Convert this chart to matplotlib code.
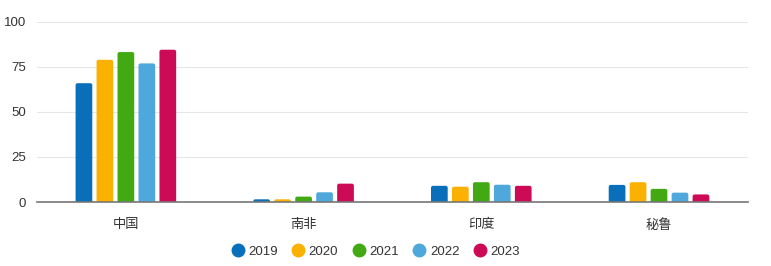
import matplotlib
matplotlib.use('Agg')
import matplotlib.pyplot as plt
from matplotlib.patches import FancyBboxPatch
import numpy as np

plt.rcParams['font.family'] = ['Liberation Sans', 'Noto Sans CJK SC']

# data
countries = ['中国', '南非', '印度', '秘鲁']
years = ['2019', '2020', '2021', '2022', '2023']
v2019 = [66, 1.5, 9, 9.5]
v2020 = [79, 1.5, 8.5, 11]
v2021 = [83.3, 3, 11, 7.3]
v2022 = [77, 5.4, 9.6, 5.2]
v2023 = [84.6, 10.2, 9, 4.2]
colors = ['#0a6fbb', '#fbb102', '#42a912', '#4fa8dc', '#cc0a55']

series = [v2019, v2020, v2021, v2022, v2023]

fig = plt.figure(figsize=(7.71, 2.66), dpi=100)
ax = fig.add_axes([0.048, 0.2406, 0.922, 0.6767])
ax.set_xlim(-0.5, 3.5)
ax.set_ylim(0, 100)

x = np.arange(len(countries))
pitch = 0.118
width = 0.094

# rounded bar tops: aspect between y and x data units per pixel
bbox = ax.get_window_extent()
aspect = (100 / bbox.height) / (4 / bbox.width)
r = 2.0 * 4 / bbox.width
for i, vals in enumerate(series):
    for xi, v in zip(x, vals):
        left = xi + (i - 2) * pitch - width / 2
        p = FancyBboxPatch((left, -5), width, v + 5,
                           boxstyle='round,pad=0,rounding_size=%f' % r,
                           mutation_aspect=aspect, facecolor=colors[i],
                           edgecolor='none', zorder=3)
        ax.add_patch(p)

ax.set_yticks([0, 25, 50, 75, 100])
ax.grid(axis='y', color='#e6e6e6', linewidth=0.8, zorder=0)
for s in ['top', 'right', 'left']:
    ax.spines[s].set_visible(False)
ax.spines['bottom'].set_color('#777777')
ax.spines['bottom'].set_linewidth(1.2)
ax.spines['bottom'].set_zorder(4)
ax.tick_params(axis='both', length=0, labelsize=9.5, colors='#333333')
ax.tick_params(axis='y', pad=8)
ax.tick_params(axis='x', pad=12)
ax.set_xticks(x)
ax.set_xticklabels(countries)

handles = [plt.Line2D([], [], marker='o', linestyle='', markersize=9, color=c) for c in colors]
fig.legend(handles, years, loc='center', bbox_to_anchor=(0.487, 0.053), ncol=5,
           frameon=False, fontsize=9.5, handlelength=1.0, handletextpad=0.3,
           columnspacing=1.05, labelcolor='#333333')

fig.savefig('out.png', dpi=100)
